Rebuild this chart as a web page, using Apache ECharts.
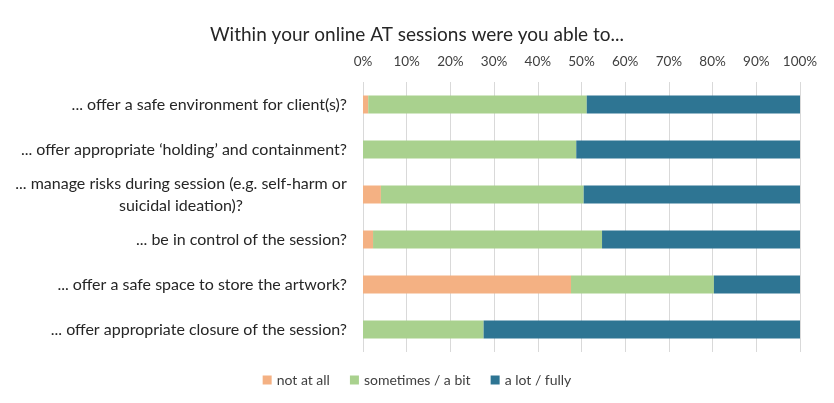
<!DOCTYPE html>
<html><head><meta charset="utf-8">
<script src="https://cdn.jsdelivr.net/npm/echarts@6/dist/echarts.min.js"></script>
<style>html,body{margin:0;padding:0;background:#fff}#c{width:834px;height:403px}</style>
</head><body><div id="c"></div>
<script>
var categories = [
  "... offer a safe environment for client(s)?",
  "... offer appropriate \u2018holding\u2019 and containment?",
  "... manage risks during session (e.g. self-harm or\nsuicidal ideation)?",
  "... be in control of the session?",
  "... offer a safe space to store the artwork?",
  "... offer appropriate closure of the session?"
];
var notAtAll = [1.2, 0, 4.1, 2.3, 47.6, 0];
var sometimes = [50.0, 48.8, 46.4, 52.4, 32.7, 27.6];
var aLot = [48.8, 51.2, 49.5, 45.3, 19.7, 72.4];
var seriesNames = ["not at all", "sometimes / a bit", "a lot / fully"];
var colors = ["#F4B183", "#A9D18E", "#2E7593"];
var FONT = "Lato";

var chart = echarts.init(document.getElementById('c'));
var data = [notAtAll, sometimes, aLot];
chart.setOption({
  animation: false,
  title: {text: "Within your online AT sessions were you able to...", left: 'center', top: 20,
    textStyle: {fontFamily: FONT, fontSize: 19, fontWeight: 'normal', color: '#262626'}},
  legend: {bottom: 11, left: 'center', itemWidth: 9, itemHeight: 9, itemGap: 20,
    icon: 'rect',
    textStyle: {fontFamily: FONT, fontSize: 14, color: '#404040'},
    data: seriesNames},
  grid: {left: 363, right: 34, top: 82, height: 270},
  xAxis: {type: 'value', position: 'top', min: 0, max: 100, interval: 10,
    axisLine: {show: false}, axisTick: {show: false},
    axisLabel: {formatter: '{value}%', fontFamily: FONT, fontSize: 13.5, color: '#404040', margin: 13},
    splitLine: {show: true, lineStyle: {color: '#D9D9D9'}}},
  yAxis: {type: 'category', inverse: true, data: categories,
    axisLine: {show: false}, axisTick: {show: false},
    axisLabel: {fontFamily: FONT, fontSize: 16, color: '#262626', margin: 16,
      formatter: function (v) {
        if (v.indexOf('\n') >= 0) {
          var p = v.split('\n');
          return '{c|' + p[0] + '}\n{c|' + p[1] + '}';
        }
        return v;
      },
      rich: {c: {width: 332, align: 'center', fontFamily: FONT, fontSize: 16, color: '#262626', lineHeight: 22}}}},
  series: seriesNames.map(function (n, i) {
    return {name: n, type: 'bar', stack: 'a', data: data[i], barWidth: 18,
      itemStyle: {color: colors[i]}};
  })
});
</script></body></html>
